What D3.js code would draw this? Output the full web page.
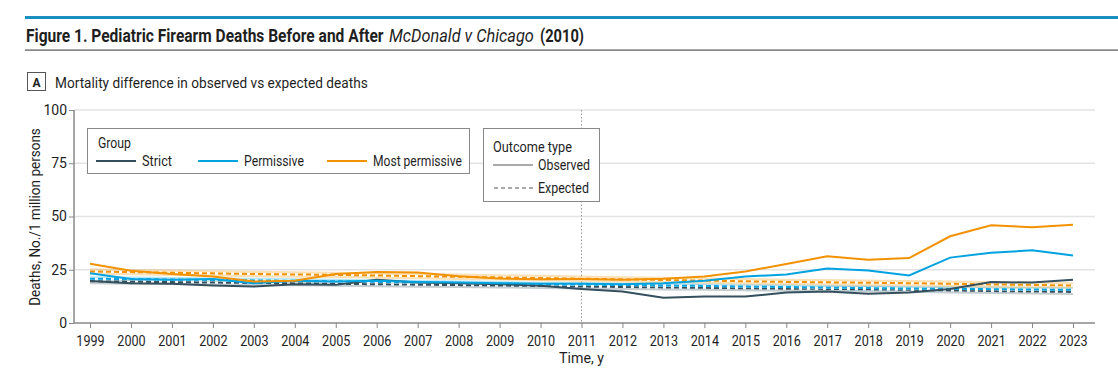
<!DOCTYPE html>
<html><head><meta charset="utf-8">
<script src="https://cdn.jsdelivr.net/npm/d3@7"></script>
<style>
body{margin:0;background:#fff;}
svg{display:block;font-family:Roboto,"Noto Sans",sans-serif;}
</style></head>
<body><svg id="c" width="1118" height="382"></svg>
<script>
const years = [1999,2000,2001,2002,2003,2004,2005,2006,2007,2008,2009,2010,2011,2012,2013,2014,2015,2016,2017,2018,2019,2020,2021,2022,2023];
const yTicks = [0,25,50,75,100];
const groups = ["Strict","Permissive","Most permissive"];
const colors = ["#34505e","#00a3e0","#f39200"];
const strictObs = [19.7,18.7,18.4,17.6,17.1,18.2,17.9,20.3,19.0,18.7,18.2,17.5,16.0,14.8,11.9,12.4,12.4,14.3,14.8,13.7,14.3,16.0,19.2,19.0,20.3];
const permObs = [23.4,20.7,20.3,20.6,18.7,19.8,19.5,19.8,19.2,19.0,18.7,18.4,18.4,18.2,18.7,19.8,21.8,22.8,25.6,24.7,22.3,30.7,33.0,34.1,31.7];
const mostObs = [27.8,24.5,23.0,21.8,19.5,19.8,23.0,23.9,23.7,22.0,20.9,20.5,20.6,20.3,20.8,21.8,24.2,27.7,31.3,29.7,30.5,40.7,45.9,45.0,46.1];
const strictExp = [19.6,19.4,19.2,19.0,18.8,18.6,18.4,18.2,18.0,17.8,17.6,17.4,17.1,16.9,16.7,16.5,16.3,16.1,16.0,15.8,15.6,15.3,15.0,14.8,14.6];
const permExp = [20.8,20.6,20.4,20.2,20.0,19.8,19.6,19.3,19.0,18.8,18.5,18.2,18.0,17.8,17.6,17.4,17.1,16.9,16.6,16.4,16.2,16.0,15.9,15.7,15.6];
const mostExp = [24.2,23.9,23.6,23.3,23.0,22.8,22.6,22.3,22.0,21.7,21.4,21.1,20.8,20.5,20.2,19.9,19.6,19.3,19.1,18.9,18.7,18.4,18.1,17.9,17.6];
const expBand = [1.4,1.2,1.5];
const observed = [strictObs,permObs,mostObs];
const expected = [strictExp,permExp,mostExp];

const svg = d3.select("#c");
const pLeft = 74, pRight = 1095, pTop = 110, pBottom = 323;
const x = d3.scaleLinear().domain([1999,2023]).range([90,1073]);
const y = d3.scaleLinear().domain([0,100]).range([pBottom,pTop]);
const ink = "#1f1f1f";
// text placed at (tx,ty), horizontally scaled to width len; rot for rotated labels
function txt(sel, s, tx, ty, size, len, opts={}){
  const e = sel.append("text").attr("fill",ink).attr("font-size",size).text(s);
  if(opts.weight) e.attr("font-weight",opts.weight);
  if(opts.style) e.attr("font-style",opts.style);
  if(opts.anchor) e.attr("text-anchor",opts.anchor);
  let sx = 1;
  if(len){ const w = e.node().getComputedTextLength(); if(w>0) sx = len/w; }
  e.attr("transform",`translate(${tx},${ty})${opts.rot?` rotate(${opts.rot})`:""} scale(${sx},1)`);
  return e;
}

// header
svg.append("rect").attr("x",25).attr("y",16).attr("width",1093).attr("height",3).attr("fill","#1b8fbf");
txt(svg,"Figure 1. Pediatric Firearm Deaths Before and After",26,42,18,358,{weight:"bold"});
txt(svg,"McDonald v Chicago",389,42,18,145,{style:"italic"});
txt(svg,"(2010)",540,42,18,44,{weight:"bold"});
svg.append("rect").attr("x",25).attr("y",49.5).attr("width",1093).attr("height",1.2).attr("fill","#555");
svg.append("rect").attr("x",27.5).attr("y",72.5).attr("width",18).attr("height",18).attr("fill","#fff").attr("stroke","#555");
txt(svg,"A",36.5,86.5,12,null,{weight:"bold",anchor:"middle"});
txt(svg,"Mortality difference in observed vs expected deaths",55,88,15,313);

// grid
svg.append("g").selectAll("line").data(yTicks.filter(d=>d>0)).join("line")
  .attr("x1",pLeft).attr("x2",pRight).attr("y1",d=>y(d)).attr("y2",d=>y(d)).attr("stroke","#e3e3e3").attr("stroke-width",1.5);

// axes
const ya = svg.append("g").attr("transform",`translate(${pLeft},0)`).call(d3.axisLeft(y).tickValues(yTicks).tickSize(5).tickSizeOuter(0));
const xa = svg.append("g").attr("transform",`translate(0,${pBottom})`).call(d3.axisBottom(x).tickValues(years).tickFormat(d3.format("d")).tickSize(5).tickSizeOuter(0));
[ya,xa].forEach(a=>{a.select(".domain").attr("stroke","#888").attr("stroke-width",1.5);
  a.selectAll(".tick line").attr("stroke","#888");
  a.selectAll("text").attr("font-size",14).attr("fill",ink);
  a.attr("font-family",null);});
xa.select(".domain").attr("d",`M${pLeft},0H${pRight}`);
ya.select(".domain").attr("d",`M0,${pBottom}V${pTop}`);
xa.selectAll(".tick text").attr("dy","1.1em").attr("transform","scale(0.9,1)")
  .attr("x",0);
xa.selectAll(".tick").each(function(d){ d3.select(this).select("text").attr("transform","scale(0.9,1)"); });
ya.selectAll(".tick text").attr("x",-7);

// vertical reference at 2011
svg.append("line").attr("x1",x(2011)).attr("x2",x(2011)).attr("y1",pTop).attr("y2",pBottom)
  .attr("stroke","#999").attr("stroke-dasharray","1.5,2");

// expected bands & lines
const area = d3.area().x((d,i)=>x(years[i]));
const line = d3.line().x((d,i)=>x(years[i])).y(d=>y(d));
expected.forEach((arr,g)=>{
  svg.append("path").datum(arr).attr("fill",colors[g]).attr("opacity",0.28)
    .attr("d",area.y0(d=>y(d-expBand[g])).y1(d=>y(d+expBand[g])));
});
expected.forEach((arr,g)=>{
  svg.append("path").datum(arr).attr("fill","none").attr("stroke","#fff").attr("stroke-width",2).attr("d",line);
  svg.append("path").datum(arr).attr("fill","none").attr("stroke",colors[g]).attr("stroke-width",2)
    .attr("stroke-dasharray","5,3").attr("d",line);
});
observed.forEach((arr,g)=>{
  svg.append("path").datum(arr).attr("fill","none").attr("stroke",colors[g]).attr("stroke-width",2).attr("d",line);
});

// axis titles
txt(svg,"Deaths, No./1 million persons",40,217,15,178,{anchor:"middle",rot:-90});
txt(svg,"Time, y",x(2011),363,15,45,{anchor:"middle"});

// legend 1
const l1 = svg.append("g");
l1.append("rect").attr("x",87.5).attr("y",128.5).attr("width",382).attr("height",45).attr("fill","#fff").attr("stroke","#888");
txt(l1,"Group",98,148,14,33);
const lx = [96,198,327];
const lw = [30,60,89];
groups.forEach((g,i)=>{
  l1.append("line").attr("x1",lx[i]).attr("x2",lx[i]+40).attr("y1",161).attr("y2",161).attr("stroke",colors[i]).attr("stroke-width",2);
  txt(l1,g,lx[i]+46,166,14,lw[i]);
});
// legend 2
const l2 = svg.append("g");
l2.append("rect").attr("x",483.5).attr("y",128.5).attr("width",116).attr("height",73).attr("fill","#fff").attr("stroke","#888");
txt(l2,"Outcome type",493,152,14,79);
l2.append("line").attr("x1",493).attr("x2",533).attr("y1",165).attr("y2",165).attr("stroke","#555").attr("stroke-width",1);
txt(l2,"Observed",538,170,14,52);
l2.append("line").attr("x1",494).attr("x2",533).attr("y1",188).attr("y2",188).attr("stroke","#555").attr("stroke-width",1).attr("stroke-dasharray","4,3");
txt(l2,"Expected",538,193,14,51);
</script></body></html>
